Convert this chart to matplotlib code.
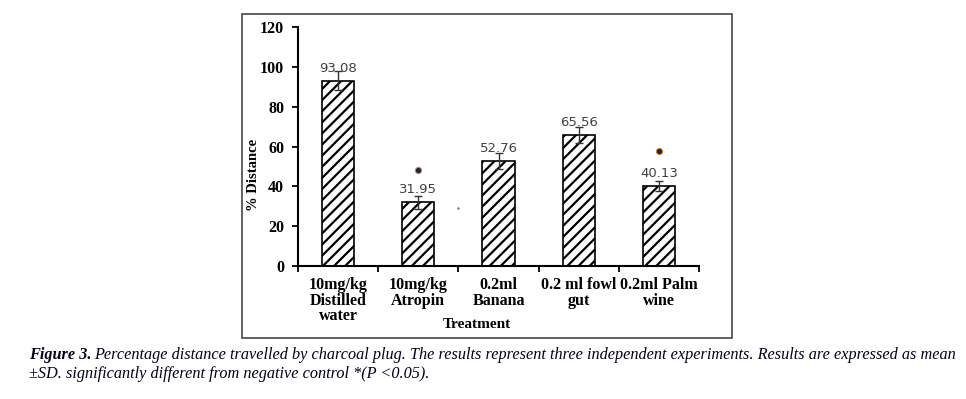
import numpy as np
import matplotlib.pyplot as plt
from matplotlib.patches import Rectangle

# du lieu
treatments = ['10mg/kg\nDistilled\nwater', '10mg/kg\nAtropin', '0.2ml\nBanana',
              '0.2 ml fowl\ngut', '0.2ml Palm\nwine']
distance = [93.08, 31.95, 52.76, 65.56, 40.13]
sd = [4.8, 3.2, 3.8, 4.0, 2.4]
star_idx = [1, 4]
star_y = [48.2, 57.9]
y_ticks = [0, 20, 40, 60, 80, 100, 120]

plt.rcParams['hatch.linewidth'] = 1.6

fig = plt.figure(figsize=(9.66, 3.99), dpi=100)

# khung vien ngoai
fig.patches.append(Rectangle((0.2505, 0.153), 0.5073, 0.812, transform=fig.transFigure,
                             fill=False, edgecolor='#555555', linewidth=1.3))

ax = fig.add_axes([0.3085, 0.3333, 0.4151, 0.599])
x = np.arange(len(treatments))
ax.bar(x, distance, width=0.4, color='white', edgecolor='black', hatch='///',
       linewidth=1.2, zorder=2)
ax.errorbar(x, distance, yerr=sd, fmt='none', ecolor='#333333', elinewidth=1,
            capsize=3, capthick=1, zorder=3)

for i, v in enumerate(distance):
    ax.text(i, v + 3.0, '%.2f' % v, ha='center', va='bottom', fontsize=9.5,
            color='#404040', family='DejaVu Sans')

for i, yy in zip(star_idx, star_y):
    ax.plot(i, yy, marker='o', markersize=4.5, mfc='#15264f', mec='#d08a3a',
            mew=0.7, zorder=4)

ax.plot(1.5, 29, marker='.', markersize=1.5, color='#777777')

ax.set_xlim(-0.5, 4.5)
ax.set_ylim(0, 120)
ax.set_yticks(y_ticks)
ax.set_xticks(x)
ax.set_xticklabels(treatments, fontsize=11.5, fontweight='bold', family='Liberation Serif',
                   linespacing=0.95)
ax.set_xticks(np.arange(-0.5, 5, 1), minor=True)
ax.tick_params(axis='x', which='major', length=0, pad=8)
ax.tick_params(axis='x', which='minor', length=4, width=1.3, direction='out')
ax.tick_params(axis='y', length=4, width=1.3, direction='out', pad=6)
for lab in ax.get_yticklabels():
    lab.set_fontweight('bold')
    lab.set_family('Liberation Serif')
    lab.set_fontsize(11.5)

for s in ['top', 'right']:
    ax.spines[s].set_visible(False)
ax.spines['left'].set_linewidth(1.5)
ax.spines['bottom'].set_linewidth(1.5)

ax.set_ylabel('% Distance', fontsize=10.5, fontweight='bold', family='Liberation Serif')
ax.yaxis.set_label_coords(-0.095, 0.383)
fig.text(0.4938, 0.1855, 'Treatment', ha='center', va='center', fontsize=11,
         fontweight='bold', family='Liberation Serif')

# chu thich hinh
cap_kw = dict(ha='left', va='baseline', fontsize=11.7, style='italic',
              family='Liberation Serif', color='#000018')
t1 = fig.text(0.030, 1 - 359 / 399, 'Figure 3.', fontweight='bold', **cap_kw)
fig.canvas.draw()
bb = t1.get_window_extent()
fig.text(bb.x1 / fig.bbox.width + 0.003, 1 - 359 / 399,
         'Percentage distance travelled by charcoal plug. The results represent '
         'three independent experiments. Results are expressed as mean', **cap_kw)
fig.text(0.030, 1 - 378 / 399,
         '\u00b1SD. significantly different from negative control *(P <0.05).', **cap_kw)

fig.savefig('out.png', dpi=100)
